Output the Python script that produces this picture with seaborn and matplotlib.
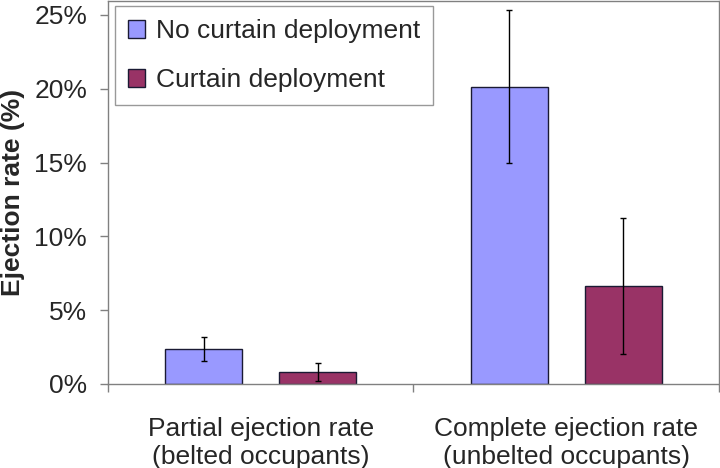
import numpy as np
import pandas as pd
import matplotlib
matplotlib.use("Agg")
import matplotlib.pyplot as plt
import seaborn as sns

# data (percent)
categories = ["Partial ejection rate\n(belted occupants)", "Complete ejection rate\n(unbelted occupants)"]
series = ["No curtain deployment", "Curtain deployment"]
no_curtain = [2.39, 20.14]
curtain = [0.81, 6.64]
no_curtain_lo = [1.54, 14.95]
no_curtain_hi = [3.18, 25.36]
curtain_lo = [0.18, 2.01]
curtain_hi = [1.40, 11.27]

df = pd.DataFrame({
    "category": categories * 2,
    "series": [series[0]] * 2 + [series[1]] * 2,
    "rate": no_curtain + curtain,
})

sns.set_theme(style="white")
plt.rcParams["font.family"] = ["Liberation Sans", "DejaVu Sans"]

fig = plt.figure(figsize=(7.2, 4.68), dpi=100)
ax = fig.add_axes([0.15, 0.1795, 0.8486, 0.8185])

colors = ["#9999FF", "#993366"]
sns.barplot(data=df, x="category", y="rate", hue="series", palette=colors,
            saturation=1, width=0.748, gap=0.326, edgecolor="#1a1a33",
            linewidth=1.0, errorbar=None, ax=ax)

# error bars at the bar centres
for cont, vals, lo, hi in zip(ax.containers,
                              [no_curtain, curtain],
                              [no_curtain_lo, curtain_lo],
                              [no_curtain_hi, curtain_hi]):
    xs = [p.get_x() + p.get_width() / 2 for p in cont.patches]
    vals = np.array(vals)
    yerr = [vals - np.array(lo), np.array(hi) - vals]
    ax.errorbar(xs, vals, yerr=yerr, fmt="none", ecolor="black",
                elinewidth=1.0, capsize=2.5, capthick=1.0)

ax.set_xlim(-0.5, 1.5)
ax.set_ylim(0, 25.95)
ax.set_yticks([0, 5, 10, 15, 20, 25])
ax.set_yticklabels([f"{v}%" for v in [0, 5, 10, 15, 20, 25]], fontsize=19)
ax.set_xticks([-0.5, 0.5, 1.5], minor=True)
ax.tick_params(axis="x", which="major", bottom=True, length=0, labelsize=19, pad=24)
ax.tick_params(axis="x", which="minor", bottom=True, length=6, color="#808080",
               width=1, direction="out")
ax.tick_params(axis="y", left=True, length=6, color="#808080", width=1,
               direction="out", pad=9)
for t in ax.get_xticklabels():
    t.set_linespacing(1.18)

ax.set_xlabel("")
ax.set_ylabel("Ejection rate (%)", fontsize=19, fontweight="bold", labelpad=7)

for s in ax.spines.values():
    s.set_color("#808080")
    s.set_linewidth(1.0)
    s.set_visible(True)

leg = ax.legend(loc="upper left", bbox_to_anchor=(0.0115, 0.987), fontsize=19,
                frameon=True, fancybox=False, edgecolor="#808080",
                handlelength=0.65, handleheight=0.65, handletextpad=0.4,
                borderpad=0.5, labelspacing=0.95, borderaxespad=0)
leg.get_frame().set_linewidth(1.0)

fig.savefig("out.png", dpi=100)
